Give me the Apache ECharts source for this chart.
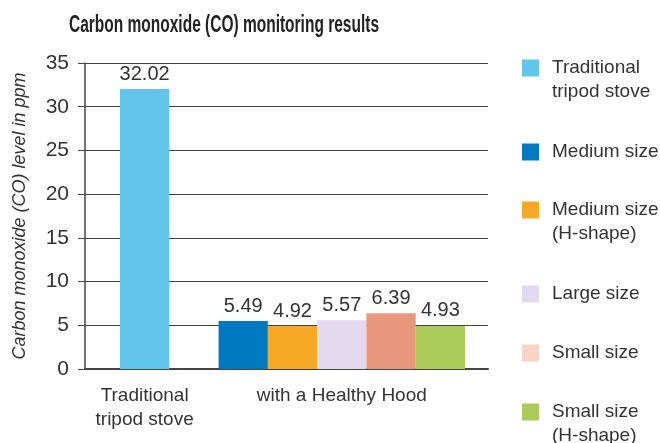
<!DOCTYPE html>
<html>
<head>
<meta charset="utf-8">
<script src="https://cdn.jsdelivr.net/npm/echarts@6/dist/echarts.min.js"></script>
<style>html,body{margin:0;padding:0;background:#fff}#c{width:660px;height:443px}</style>
</head>
<body>
<div id="c"></div>
<script>
// ---- data ----
const titleText = 'Carbon monoxide (CO) monitoring results';
const groupLabels = ['Traditional\ntripod stove', 'with a Healthy Hood'];
const seriesNames = ['Traditional\ntripod stove', 'Medium size', 'Medium size\n(H-shape)', 'Large size', 'Small size', 'Small size\n(H-shape)'];
const values = [32.02, 5.49, 4.92, 5.57, 6.39, 4.93];
const barColors = ['#62C6EA', '#0079C1', '#F6A827', '#E3D9EE', '#E8967C', '#ABCB5B'];
const legendColors = ['#62C6EA', '#0079C1', '#F6A827', '#E3D9EE', '#F9D3C6', '#ABCB5B'];
const yTicks = [0, 5, 10, 15, 20, 25, 30, 35];
// slot layout: traditional bar, gap, then five Healthy Hood bars
const slotOfSeries = [0, 2, 3, 4, 5, 6];
const slotCount = 7;
const groupLabelSlot = [0, 4];

const slotLabels = Array.from({length: slotCount}, () => '');
groupLabelSlot.forEach((s, i) => { slotLabels[s] = groupLabels[i]; });

const FONT = 'Liberation Sans';
const series = seriesNames.map((name, i) => {
  const data = Array.from({length: slotCount}, () => '-');
  data[slotOfSeries[i]] = values[i];
  return {
    name: name,
    type: 'bar',
    xAxisIndex: 1,
    yAxisIndex: 1,
    stack: 'all',
    barCategoryGap: '0%',
    data: data,
    itemStyle: {color: barColors[i]},
    label: {
      show: true, position: 'top', distance: 5,
      fontFamily: FONT, fontSize: 20, color: '#333',
      formatter: p => p.value.toFixed(2)
    }
  };
});

// one legend block per entry so each icon sits on the first text line
const legendIconCenters = [68, 152, 210, 294, 353, 412];
const legends = seriesNames.map((n, i) => {
  const multi = n.indexOf('\n') >= 0;
  return {
    orient: 'vertical', left: 522, top: legendIconCenters[i] - (multi ? 36 : 12),
    padding: 0, selectedMode: false,
    itemWidth: 17, itemHeight: 17, icon: 'rect',
    formatter: name => (name.indexOf('\n') >= 0 ? ' \n' + name : name),
    textStyle: {fontFamily: FONT, fontSize: 19, color: '#333', lineHeight: 24, padding: [0, 0, 0, 8]},
    data: [{name: n, itemStyle: {color: legendColors[i]}}]
  };
});

// condensed bold title: measure and squeeze horizontally
const titleFont = 'bold 23px "Liberation Sans"';
const mctx = document.createElement('canvas').getContext('2d');
mctx.font = titleFont;
const titleScale = 310 / mctx.measureText(titleText).width;

const chart = echarts.init(document.getElementById('c'), null, {renderer: 'canvas'});
chart.setOption({
  animation: false,
  backgroundColor: '#fff',
  graphic: [{
    type: 'text', x: 69, y: 25.5, scaleX: titleScale,
    style: {text: titleText, font: titleFont, fill: '#222', align: 'left', verticalAlign: 'middle'}
  }],
  legend: legends,
  grid: [
    {left: 85, right: 172, top: 63, bottom: 74},
    {left: 120, right: 195, top: 63, bottom: 74}
  ],
  xAxis: [
    {gridIndex: 0, type: 'category', data: groupLabels, position: 'top',
     axisLine: {show: true, lineStyle: {color: '#444', width: 2}}, axisTick: {show: false}, axisLabel: {show: false}},
    {gridIndex: 1, type: 'category', data: slotLabels,
     axisLine: {show: false}, axisTick: {show: false},
     axisLabel: {interval: 0, margin: 15, fontFamily: FONT, fontSize: 19, color: '#333', lineHeight: 24}}
  ],
  yAxis: [
    {gridIndex: 0, type: 'value', min: yTicks[0], max: yTicks[yTicks.length - 1], interval: yTicks[1] - yTicks[0],
     name: 'Carbon monoxide (CO) level in ppm', nameLocation: 'middle', nameGap: 56,
     nameTextStyle: {fontFamily: FONT, fontStyle: 'italic', fontSize: 18, color: '#333'},
     axisLine: {show: true, lineStyle: {color: '#444', width: 1.5}},
     axisTick: {show: true, length: 7, lineStyle: {color: '#444'}},
     axisLabel: {margin: 16, fontFamily: FONT, fontSize: 21, color: '#333'},
     splitLine: {show: true, lineStyle: {color: '#444', width: 1.2}}},
    {gridIndex: 1, type: 'value', min: yTicks[0], max: yTicks[yTicks.length - 1], show: false, splitLine: {show: false}}
  ],
  series: series
});
</script>
</body>
</html>
